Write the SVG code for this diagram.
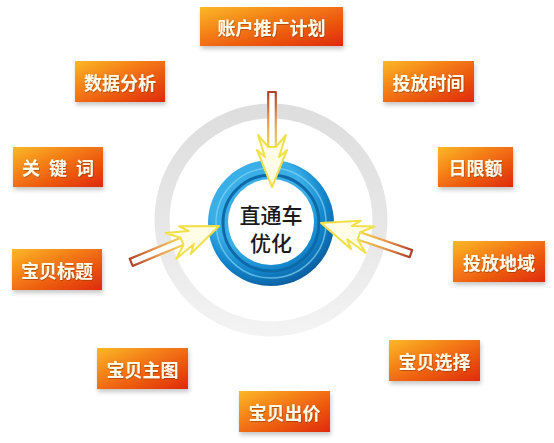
<svg xmlns="http://www.w3.org/2000/svg" width="554" height="443" viewBox="0 0 554 443">
<defs>
<linearGradient id="boxg" x1="0" y1="0" x2="1" y2="1">
<stop offset="0" stop-color="#fbb827"/>
<stop offset="0.45" stop-color="#f37414"/>
<stop offset="1" stop-color="#df2a08"/>
</linearGradient>
<radialGradient id="blueg" cx="0.4" cy="0.35" r="0.7">
<stop offset="0.55" stop-color="#3aaee6"/>
<stop offset="0.75" stop-color="#1386cc"/>
<stop offset="1" stop-color="#0a5898"/>
</radialGradient>
<linearGradient id="grayg" x1="0" y1="0" x2="0" y2="1">
<stop offset="0" stop-color="#dedede"/>
<stop offset="0.6" stop-color="#e8e8e8"/>
<stop offset="1" stop-color="#f3f3f3"/>
</linearGradient>
<linearGradient id="shaftg" gradientUnits="userSpaceOnUse" x1="-95" y1="0" x2="-38" y2="0">
<stop offset="0" stop-color="#b0402a"/>
<stop offset="0.5" stop-color="#e89a50"/>
<stop offset="1" stop-color="#f3da55"/>
</linearGradient>
<filter id="sh" x="-20%" y="-20%" width="140%" height="160%">
<feDropShadow dx="1" dy="3" stdDeviation="2" flood-color="#000" flood-opacity="0.22"/>
</filter>
<filter id="tsh" x="-10%" y="-10%" width="120%" height="130%">
<feDropShadow dx="0.6" dy="0.8" stdDeviation="0.5" flood-color="#7a2a00" flood-opacity="0.6"/>
</filter>
<g id="arrow">
<polygon points="-95,-3.8 -38,-3.8 -38,3.8 -95,3.8" fill="#ffffff" stroke="url(#shaftg)" stroke-width="2.2" stroke-linejoin="round"/>
<path d="M-40,-3.8 L-52,-14 L-30,-7 L-37,-15 L0,0 L-37,15 L-30,7 L-52,14 L-40,3.8 Z" fill="#fffde6" stroke="#f2e04a" stroke-width="2" stroke-linejoin="round"/>
</g>
</defs>
<style>
.box{fill:url(#boxg);filter:url(#sh);}
.bt{font-family:"Noto Sans CJK SC","Noto Sans",sans-serif;font-weight:bold;font-size:18px;fill:#fffbe8;text-anchor:middle;dominant-baseline:central;filter:url(#tsh);}
.ct{font-family:"Noto Sans CJK SC","Noto Sans",sans-serif;font-weight:500;font-size:21px;fill:#1a1a1a;text-anchor:middle;dominant-baseline:central;}
</style>
<rect width="554" height="443" fill="#ffffff"/>

<g id="hub">
<circle cx="271" cy="220" r="109" fill="none" stroke="url(#grayg)" stroke-width="15"/>
<circle cx="271" cy="223" r="63" fill="url(#blueg)"/>
<circle cx="271" cy="223" r="55" fill="none" stroke="#7fd3f5" stroke-width="1.5" opacity="0.7"/>
<circle cx="271" cy="223" r="48" fill="none" stroke="#0d6aa8" stroke-width="3"/>
<circle cx="271" cy="222" r="43" fill="#ffffff"/>
<text class="ct" x="271" y="214">直通车</text>
<text class="ct" x="271" y="242">优化</text>
</g>

<g id="connectors">
<use href="#arrow" transform="translate(272,187) rotate(90)"/>
<use href="#arrow" transform="translate(219,226) rotate(-22.5)"/>
<use href="#arrow" transform="translate(321,223) rotate(198.8)"/>
</g>

<g id="n1"><rect class="box" x="200" y="7" width="143" height="39"/><text class="bt" x="271.5" y="26.5">账户推广计划</text></g>
<g id="n2"><rect class="box" x="75" y="61" width="90" height="41"/><text class="bt" x="120" y="81.5">数据分析</text></g>
<g id="n3"><rect class="box" x="383" y="61" width="91" height="41"/><text class="bt" x="428.5" y="81.5">投放时间</text></g>
<g id="n4"><rect class="box" x="13" y="147" width="90" height="40"/><text class="bt" x="58" y="167" word-spacing="5">关 键 词</text></g>
<g id="n5"><rect class="box" x="438" y="147" width="75" height="40"/><text class="bt" x="475.5" y="167">日限额</text></g>
<g id="n6"><rect class="box" x="12" y="249" width="90" height="41"/><text class="bt" x="57" y="269.5">宝贝标题</text></g>
<g id="n7"><rect class="box" x="453" y="241" width="92" height="41"/><text class="bt" x="499" y="261.5">投放地域</text></g>
<g id="n8"><rect class="box" x="97" y="348" width="91" height="41"/><text class="bt" x="142.5" y="368.5">宝贝主图</text></g>
<g id="n9"><rect class="box" x="389" y="340" width="91" height="41"/><text class="bt" x="434.5" y="360.5">宝贝选择</text></g>
<g id="n10"><rect class="box" x="239" y="391" width="91" height="41"/><text class="bt" x="284.5" y="411.5">宝贝出价</text></g>
</svg>
